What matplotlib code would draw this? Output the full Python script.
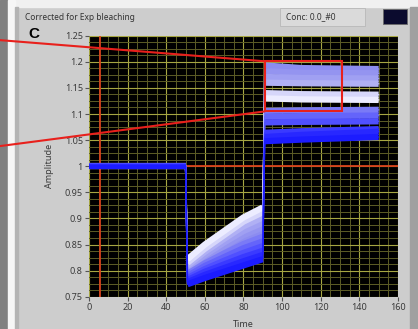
import matplotlib
matplotlib.use("Agg")
import matplotlib.pyplot as plt
from matplotlib.patches import Rectangle, ConnectionPatch
from matplotlib.ticker import MultipleLocator, FuncFormatter

plt.rcParams['font.family'] = ['Noto Sans', 'DejaVu Sans']

# time axis of each phase
time_base = [0, 50]
time_drop = [51, 60, 70, 80, 90]
time_recov = [91, 110, 150]

# one entry per trace, bluest first
trace_colors = ['#1c1cff', '#2828ff', '#3a3aff', '#5050ff', '#6464fa', '#7a7af6',
                '#ececff', '#d6d6fa', '#b0b0f4', '#a0a0f2', '#9494f0', '#8c8cf0']
base_levels = [0.999, 1.001, 1.000, 1.002, 0.998, 1.000,
               1.001, 0.999, 1.002, 1.000, 0.998, 1.001]
drop_curves = [
    [0.774, 0.786, 0.798, 0.810, 0.822],
    [0.778, 0.792, 0.805, 0.818, 0.830],
    [0.782, 0.798, 0.812, 0.826, 0.838],
    [0.786, 0.803, 0.819, 0.834, 0.847],
    [0.790, 0.809, 0.826, 0.843, 0.856],
    [0.794, 0.814, 0.833, 0.851, 0.865],
    [0.822, 0.850, 0.876, 0.902, 0.921],
    [0.815, 0.842, 0.868, 0.894, 0.912],
    [0.810, 0.836, 0.861, 0.885, 0.902],
    [0.806, 0.830, 0.854, 0.876, 0.892],
    [0.802, 0.825, 0.847, 0.868, 0.883],
    [0.798, 0.819, 0.840, 0.859, 0.874],
]
recov_curves = [
    [1.048, 1.051, 1.056],
    [1.056, 1.060, 1.066],
    [1.064, 1.067, 1.071],
    [1.084, 1.085, 1.086],
    [1.095, 1.096, 1.097],
    [1.106, 1.107, 1.108],
    [1.130, 1.128, 1.127],
    [1.140, 1.138, 1.137],
    [1.160, 1.159, 1.158],
    [1.171, 1.169, 1.168],
    [1.182, 1.179, 1.178],
    [1.193, 1.188, 1.186],
]

cursor_x = 5.5
cursor_y = 1.0
zoom_box = [91, 131, 1.105, 1.201]   # x0, x1, y0, y1
link_ends = [0.878, 0.556]           # figure y of the two link lines at left edge

fig = plt.figure(figsize=(4.18, 3.29), dpi=100, facecolor='#cdcdcd')

# window chrome
fig.patches.append(Rectangle((0, 0.978), 1, 0.022, transform=fig.transFigure,
                             color='#f0f0f0', zorder=0))
fig.patches.append(Rectangle((0, 0), 0.019, 1, transform=fig.transFigure,
                             color='#808080', zorder=0))
fig.patches.append(Rectangle((0.019, 0), 0.017, 1, transform=fig.transFigure,
                             color='#f6f6f6', zorder=0))
fig.patches.append(Rectangle((0.036, 0), 0.006, 0.978, transform=fig.transFigure,
                             color='#b4b4b4', zorder=0))
fig.patches.append(Rectangle((0.982, 0), 0.018, 0.978, transform=fig.transFigure,
                             color='#a0a0a0', zorder=0))
fig.patches.append(Rectangle((0.670, 0.922), 0.203, 0.054, transform=fig.transFigure,
                             facecolor='#dadada', edgecolor='#b8b8b8', lw=0.6, zorder=0))
fig.patches.append(Rectangle((0.916, 0.927), 0.058, 0.046, transform=fig.transFigure,
                             facecolor='#0b0b2e', edgecolor='#6a6a6a', lw=0.6, zorder=0))
fig.text(0.06, 0.947, 'Corrected for Exp bleaching', fontsize=6, color='#333333', va='center')
fig.text(0.685, 0.949, 'Conc: 0.0_#0', fontsize=6, color='#333333', va='center')
fig.text(0.068, 0.897, 'C', fontsize=11, fontweight='bold', color='black',
         va='center', family='Liberation Sans')

ax = fig.add_axes([0.213, 0.098, 0.739, 0.7935])
ax.set_facecolor('black')
ax.set_xlim(0, 160)
ax.set_ylim(0.75, 1.25)

ax.xaxis.set_major_locator(MultipleLocator(20))
ax.xaxis.set_minor_locator(MultipleLocator(5))
ax.yaxis.set_major_locator(MultipleLocator(0.05))
ax.yaxis.set_minor_locator(MultipleLocator(0.0125))
ax.yaxis.set_major_formatter(FuncFormatter(lambda v, _: f'{v:g}'))
ax.grid(which='minor', color='#5c5c26', lw=0.7)
ax.grid(which='major', color='#a6a642', lw=0.8)
ax.set_axisbelow(True)
ax.tick_params(which='major', length=3, width=0.8, color='#555555',
               labelsize=6.5, labelcolor='#3a3a3a', pad=1.5)
ax.tick_params(which='minor', length=0)
for s in ax.spines.values():
    s.set_visible(False)

ax.set_xlabel('Time', fontsize=6.5, color='#3a3a3a')
ax.set_ylabel('Amplitude', fontsize=6.5, color='#3a3a3a')
ax.xaxis.set_label_coords(0.5, -0.088)
ax.yaxis.set_label_coords(-0.115, 0.5)

# cursors
ax.axhline(cursor_y, color='#d8421c', lw=1.3, zorder=1.5)
ax.axvline(cursor_x, color='#d8421c', lw=1.3, zorder=1.5)

# traces: thin line through every point, thick bands along each phase
for i in range(len(trace_colors) - 1, -1, -1):
    c = trace_colors[i]
    xs = time_base + time_drop + time_recov
    ys = [base_levels[i]] * 2 + drop_curves[i] + recov_curves[i]
    ax.plot(xs, ys, color=c, lw=1.0, zorder=2)
    ax.plot(time_base, [base_levels[i]] * 2, color=c, lw=3.0, zorder=2,
            solid_capstyle='butt')
    ax.plot(time_drop, drop_curves[i], color=c, lw=4.5, zorder=2,
            solid_capstyle='butt')
    ax.plot(time_recov, recov_curves[i], color=c, lw=4.5, zorder=2,
            solid_capstyle='butt')

# zoom region and its links to the neighbouring panel
x0, x1, y0, y1 = zoom_box
ax.add_patch(Rectangle((x0, y0), x1 - x0, y1 - y0, fill=False,
                       edgecolor='#e8201c', lw=1.5, zorder=3))
for fy, by in zip(link_ends, [y1, y0]):
    con = ConnectionPatch(xyA=(0, fy), coordsA=fig.transFigure,
                          xyB=(x0, by), coordsB=ax.transData,
                          color='#e8201c', lw=1.5, zorder=4)
    fig.add_artist(con)

fig.savefig('out.png', dpi=100, facecolor=fig.get_facecolor())
